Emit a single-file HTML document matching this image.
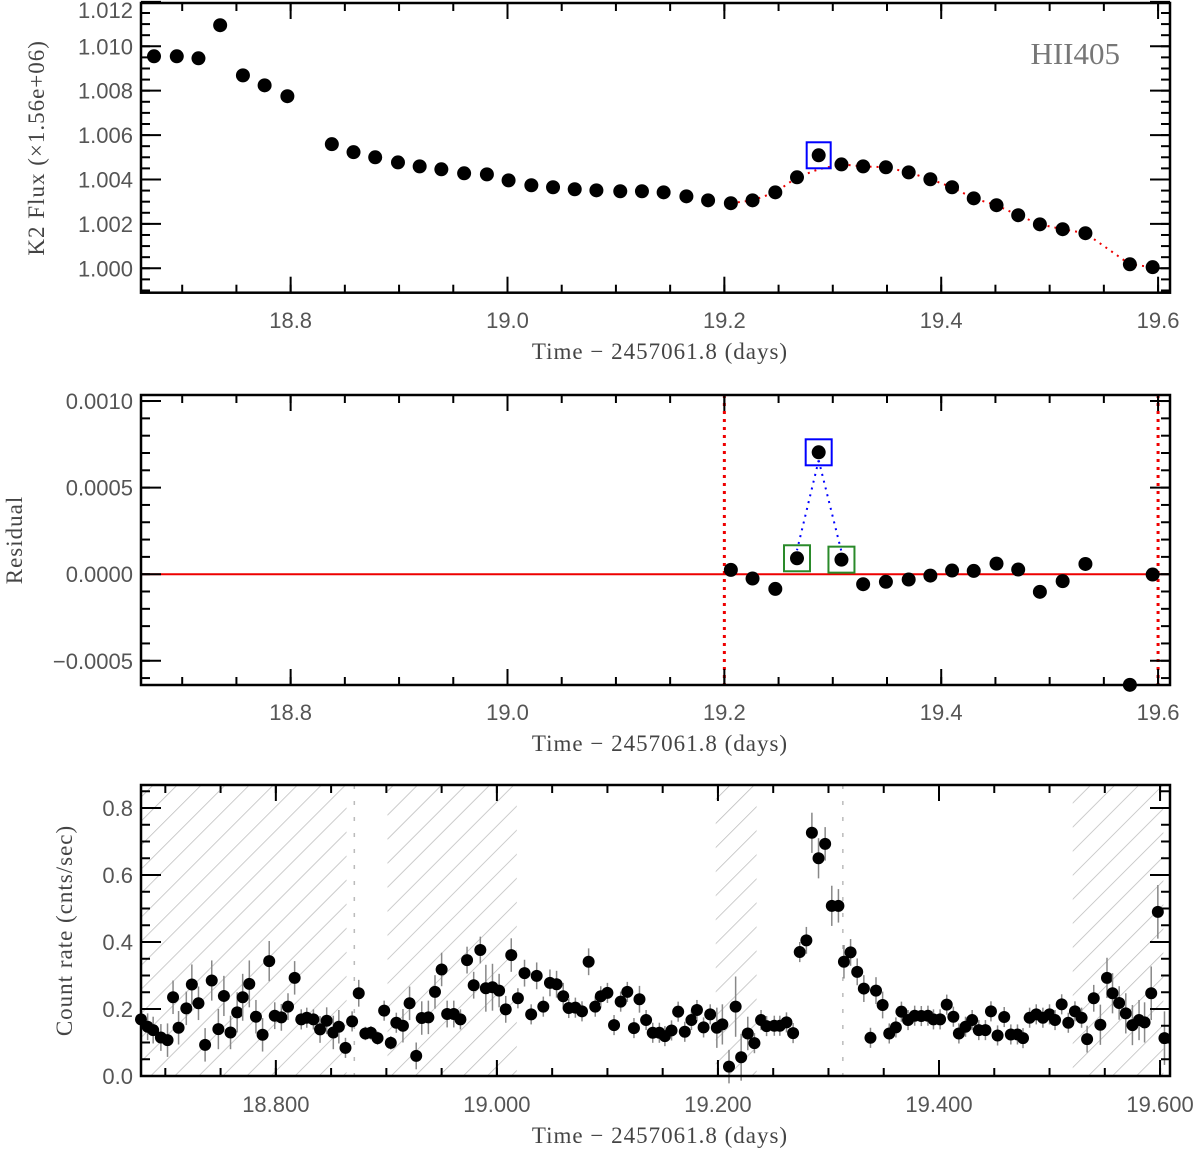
<!DOCTYPE html>
<html><head><meta charset="utf-8"><style>
body{margin:0;background:#fff}
svg{display:block}
.tk{font-family:"Liberation Sans",sans-serif;font-size:22px;fill:#555}
.tt{font-family:"Liberation Serif",serif;font-size:23px;fill:#444;letter-spacing:1px}
</style></head><body>
<svg id="c" width="1200" height="1149" viewBox="0 0 1200 1149" xmlns="http://www.w3.org/2000/svg">
<defs>
<pattern id="hatch" patternUnits="userSpaceOnUse" width="17" height="17" patternTransform="rotate(45)"><line x1="0" y1="0" x2="0" y2="17" stroke="#bbb" stroke-width="1.5"/></pattern>
</defs>
</svg>
<script>
// Panel 1: K2 flux
const t1=[18.674,18.695,18.715,18.735,18.756,18.776,18.797,18.838,18.858,18.878,18.899,18.919,18.939,18.960,18.981,19.001,19.022,19.042,19.062,19.082,19.104,19.124,19.144,19.165,19.185,19.206,19.226,19.247,19.267,19.287,19.308,19.328,19.349,19.370,19.390,19.410,19.430,19.451,19.471,19.491,19.512,19.533,19.574,19.595];
const f1=[1.00955,1.00955,1.00946,1.01095,1.00869,1.00824,1.00775,1.00559,1.00523,1.00500,1.00477,1.00459,1.00446,1.00428,1.00423,1.00396,1.00374,1.00365,1.00356,1.00351,1.00347,1.00347,1.00342,1.00324,1.00306,1.00293,1.00306,1.00342,1.00410,1.00509,1.00468,1.00459,1.00455,1.00432,1.00401,1.00365,1.00315,1.00284,1.00239,1.00198,1.00176,1.00158,1.00018,1.00005];
const fitT=[19.206,19.226,19.247,19.267,19.287,19.308,19.328,19.349,19.370,19.390,19.410,19.430,19.451,19.471,19.491,19.512,19.533,19.574,19.595];
const fitF=[1.00293,1.00306,1.00342,1.00410,1.00446,1.00468,1.00459,1.00455,1.00432,1.00401,1.00365,1.00315,1.00284,1.00239,1.00198,1.00176,1.00158,1.00018,1.00005];
const yTicks1=[1.000,1.002,1.004,1.006,1.008,1.010,1.012];
const yLabels1=["1.000","1.002","1.004","1.006","1.008","1.010","1.012"];
// Panel 2: residuals
const t2=[19.206,19.226,19.247,19.267,19.287,19.308,19.328,19.349,19.370,19.390,19.410,19.430,19.451,19.471,19.491,19.512,19.533,19.574,19.595];
const r2=[0.000025,-0.000025,-0.000085,0.000092,0.000704,0.000084,-0.000058,-0.000044,-0.000031,-0.000008,0.000021,0.000019,0.000061,0.000027,-0.000102,-0.00004,0.000059,-0.000639,-0.000002];
const yTicks2=[-0.0005,0,0.0005,0.0010];
const yLabels2=["\u22120.0005","0.0000","0.0005","0.0010"];
const xTicks12=[18.8,19.0,19.2,19.4,19.6];
const xLabels12=["18.8","19.0","19.2","19.4","19.6"];
// Panel 3: count rate
const t3=[18.678,18.684,18.689,18.696,18.702,18.707,18.712,18.719,18.724,18.730,18.736,18.742,18.748,18.753,18.759,18.765,18.770,18.776,18.782,18.788,18.794,18.799,18.805,18.811,18.817,18.823,18.828,18.834,18.840,18.846,18.852,18.857,18.863,18.869,18.875,18.881,18.886,18.892,18.898,18.904,18.909,18.915,18.921,18.927,18.932,18.938,18.944,18.950,18.955,18.961,18.967,18.973,18.979,18.985,18.990,18.996,19.002,19.008,19.013,19.019,19.025,19.031,19.036,
19.042,19.048,19.054,19.060,19.065,19.071,19.077,19.083,19.089,19.094,19.100,19.106,19.112,19.118,19.124,19.129,19.135,19.141,19.147,19.152,19.158,19.164,19.170,19.176,19.181,19.187,19.193,19.199,19.204,19.210,19.216,19.221,19.227,19.233,19.239,19.244,19.251,19.256,19.262,19.268,19.274,19.280,19.285,19.291,19.297,19.303,19.309,19.314,19.320,19.326,
19.332,19.338,19.343,19.349,19.355,19.361,19.366,19.372,19.378,19.384,19.390,19.395,19.401,19.407,19.413,19.418,19.424,19.430,19.436,19.442,19.447,19.453,19.459,19.465,19.471,19.476,19.482,19.488,19.494,19.500,19.505,19.511,19.517,19.523,19.529,19.534,19.540,19.546,19.552,19.557,19.563,19.569,19.575,19.581,19.586,19.592,19.598,19.604];
const c3=[0.169,0.147,0.137,0.115,0.107,0.235,0.144,0.202,0.273,0.217,0.093,0.285,0.140,0.239,0.130,0.190,0.235,0.275,0.177,0.123,0.343,0.180,0.175,0.207,0.293,0.169,0.174,0.169,0.139,0.165,0.130,0.147,0.084,0.163,0.247,0.127,0.129,0.113,0.195,0.099,0.159,0.150,0.217,0.060,0.173,0.175,0.251,0.318,0.185,0.185,0.169,0.346,0.271,0.376,0.262,0.265,0.255,0.199,0.361,0.232,0.307,0.184,0.299,
0.207,0.278,0.274,0.238,0.203,0.204,0.193,0.341,0.207,0.238,0.248,0.152,0.222,0.251,0.143,0.229,0.167,0.129,0.129,0.119,0.136,0.192,0.132,0.167,0.197,0.145,0.184,0.144,0.154,0.028,0.207,0.056,0.127,0.098,0.167,0.149,0.150,0.150,0.160,0.128,0.370,0.405,0.726,0.650,0.693,0.508,0.508,0.341,0.369,0.311,
0.261,0.114,0.255,0.212,0.127,0.145,0.192,0.167,0.180,0.179,0.180,0.169,0.169,0.213,0.177,0.127,0.147,0.167,0.137,0.137,0.193,0.121,0.176,0.124,0.124,0.113,0.174,0.184,0.174,0.184,0.167,0.214,0.159,0.193,0.174,0.110,0.232,0.153,0.293,0.247,0.218,0.187,0.152,0.167,0.160,0.247,0.490,0.113];
const e3=[0.04,0.04,0.04,0.04,0.05,0.05,0.05,0.05,0.06,0.05,0.05,0.06,0.06,0.06,0.05,0.06,0.07,0.07,0.05,0.05,0.06,0.04,0.04,0.04,0.05,0.03,0.03,0.03,0.04,0.04,0.05,0.05,0.03,0.03,0.04,0.02,0.02,0.02,0.03,0.02,0.03,0.05,0.05,0.04,0.05,0.05,0.05,0.05,0.04,0.04,0.03,0.04,0.04,0.04,0.07,0.07,0.05,0.04,0.05,0.03,0.04,0.03,0.04,
0.03,0.04,0.04,0.04,0.03,0.03,0.03,0.04,0.03,0.03,0.03,0.03,0.03,0.03,0.03,0.04,0.03,0.03,0.03,0.03,0.03,0.03,0.03,0.03,0.03,0.03,0.03,0.06,0.06,0.05,0.09,0.07,0.05,0.03,0.03,0.03,0.03,0.03,0.03,0.03,0.03,0.04,0.06,0.06,0.05,0.06,0.05,0.05,0.04,0.04,
0.04,0.03,0.04,0.04,0.03,0.03,0.03,0.03,0.03,0.03,0.03,0.03,0.03,0.03,0.03,0.03,0.03,0.03,0.03,0.03,0.03,0.03,0.03,0.03,0.03,0.03,0.03,0.03,0.03,0.03,0.03,0.03,0.03,0.03,0.03,0.04,0.04,0.06,0.06,0.06,0.05,0.06,0.06,0.06,0.06,0.08,0.08,0.08];
const hatchStart=[18.678,18.901,19.198,19.521];
const hatchEnd=[18.864,19.018,19.235,19.603];
const gapLines=[18.871,19.313];
const yTicks3=[0,0.2,0.4,0.6,0.8];
const yLabels3=["0.0","0.2","0.4","0.6","0.8"];
const xTicks3=[18.8,19.0,19.2,19.4,19.6];
const xLabels3=["18.800","19.000","19.200","19.400","19.600"];

const svg=document.getElementById('c');
const NS="http://www.w3.org/2000/svg";
function mk(tag,at,parent){const e=document.createElementNS(NS,tag);for(const k in at)e.setAttribute(k,at[k]);(parent||svg).appendChild(e);return e;}
function scale(d0,d1,p0,p1){return v=>p0+(v-d0)*(p1-p0)/(d1-d0);}

const P1={x0:141,x1:1170,y0:3,y1:292.7,t0:18.662,t1:19.611,v0:0.9989,v1:1.01195};
const P2={x0:141,x1:1170,y0:395,y1:685,t0:18.662,t1:19.611,v0:-0.00064,v1:0.001035};
const P3={x0:141,x1:1170,y0:785,y1:1076,t0:18.678,t1:19.609,v0:0,v1:0.8687};
[P1,P2,P3].forEach(p=>{p.X=scale(p.t0,p.t1,p.x0,p.x1);p.Y=scale(p.v0,p.v1,p.y1,p.y0);});

function axes(p,g,xt,xl,yt,yl,yMinor,labY,ytitle,ytx){
  for(let v=18.7;v<=19.61;v+=0.05){const x=p.X(v);if(x<p.x0||x>p.x1)continue;
    mk('line',{x1:x,x2:x,y1:p.y1,y2:p.y1-8,stroke:'#000','stroke-width':2},g);
    mk('line',{x1:x,x2:x,y1:p.y0,y2:p.y0+8,stroke:'#000','stroke-width':2},g);}
  xt.forEach((v,i)=>{const x=p.X(v);
    mk('line',{x1:x,x2:x,y1:p.y1,y2:p.y1-16,stroke:'#000','stroke-width':2},g);
    mk('line',{x1:x,x2:x,y1:p.y0,y2:p.y0+16,stroke:'#000','stroke-width':2},g);
    const t=mk('text',{x:x,y:labY,'text-anchor':'middle',class:'tk'},g);t.textContent=xl[i];
    
    });
  for(let v=yMinor[0];v<=p.v1+1e-12;v+=yMinor[1]){const y=p.Y(v);if(y<p.y0||y>p.y1)continue;
    mk('line',{x1:p.x0,x2:p.x0+9,y1:y,y2:y,stroke:'#000','stroke-width':2},g);
    mk('line',{x1:p.x1,x2:p.x1-9,y1:y,y2:y,stroke:'#000','stroke-width':2},g);}
  yt.forEach((v,i)=>{const y=p.Y(v);
    mk('line',{x1:p.x0,x2:p.x0+20,y1:y,y2:y,stroke:'#000','stroke-width':2},g);
    mk('line',{x1:p.x1,x2:p.x1-20,y1:y,y2:y,stroke:'#000','stroke-width':2},g);
    const ly=Math.max(y,10);
    const t=mk('text',{x:p.x0-8,y:ly+8,'text-anchor':'end',class:'tk'},g);t.textContent=yl[i];
    
    });
  mk('rect',{x:p.x0,y:p.y0,width:p.x1-p.x0,height:p.y1-p.y0,fill:'none',stroke:'#000','stroke-width':2.5},g);
  const xt2=mk('text',{x:660,y:labY+31,'text-anchor':'middle',class:'tt'},g);xt2.textContent='Time \u2212 2457061.8 (days)';
  
  
  const cy=(p.y0+p.y1)/2;
  const yt2=mk('text',{x:ytx,y:cy,'text-anchor':'middle',class:'tt',transform:`rotate(-90 ${ytx} ${cy})`},g);yt2.textContent=ytitle;
  
  
}

// ---- Panel 1
const g1=mk('g',{});


let d='';fitT.forEach((t,i)=>{d+=(i?'L':'M')+P1.X(t)+' '+P1.Y(fitF[i]);});
const fl=mk('path',{d:d,fill:'none',stroke:'#e00','stroke-width':2,'stroke-dasharray':'2 5'},g1);


t1.forEach((t,i)=>{const c=mk('circle',{cx:P1.X(t),cy:P1.Y(f1[i]),r:7,fill:'#000'},g1);
  
  });
{const i=29;const b=mk('rect',{x:P1.X(t1[i])-12,y:P1.Y(f1[i])-13,width:24,height:26,fill:'none',stroke:'#00f','stroke-width':2},g1);
 
 }
axes(P1,g1,xTicks12,xLabels12,yTicks1,yLabels1,[0.999,0.0005],328,'K2 Flux (\u00d71.56e+06)',44);
{const h=mk('text',{x:1120,y:64,'text-anchor':'end',style:'font-family:"Liberation Serif",serif;font-size:31px;fill:#777'},g1);h.textContent='HII405';
 
 }

// ---- Panel 2
const g2=mk('g',{});


[19.2,19.6].forEach(v=>{const l=mk('line',{x1:P2.X(v),x2:P2.X(v),y1:P2.y0,y2:P2.y1,stroke:'#e00','stroke-width':3,'stroke-dasharray':'3 5'},g2);
  
  });
{const z=mk('line',{x1:P2.x0,x2:P2.x1,y1:P2.Y(0),y2:P2.Y(0),stroke:'#e00','stroke-width':2},g2);
 
 }
[3,5].forEach(j=>{const l=mk('line',{x1:P2.X(t2[4]),y1:P2.Y(r2[4])+8,x2:P2.X(t2[j]),y2:P2.Y(r2[j])-8,stroke:'#00f','stroke-width':2,'stroke-dasharray':'2 5'},g2);
  
  });
t2.forEach((t,i)=>{const c=mk('circle',{cx:P2.X(t),cy:P2.Y(r2[i]),r:7,fill:'#000'},g2);
  
  });
{const b=mk('rect',{x:P2.X(t2[4])-13,y:P2.Y(r2[4])-13,width:26,height:26,fill:'none',stroke:'#00f','stroke-width':2},g2);
 
 }
[3,5].forEach(j=>{const b=mk('rect',{x:P2.X(t2[j])-13,y:P2.Y(r2[j])-13,width:26,height:26,fill:'none',stroke:'#2a8a2a','stroke-width':2},g2);
  
  });
axes(P2,g2,xTicks12,xLabels12,yTicks2,yLabels2,[-0.0006,0.0001],720,'Residual',22);

// ---- Panel 3
const g3=mk('g',{});


hatchStart.forEach((s,i)=>{const r=mk('rect',{x:P3.X(s),y:P3.y0,width:P3.X(hatchEnd[i])-P3.X(s),height:P3.y1-P3.y0,fill:'url(#hatch)'},g3);
  
  });
gapLines.forEach(v=>{const l=mk('line',{x1:P3.X(v),x2:P3.X(v),y1:P3.y0,y2:P3.y1,stroke:'#bbb','stroke-width':1.5,'stroke-dasharray':'4 12'},g3);
  
  });
t3.forEach((t,i)=>{const x=P3.X(t);
  const e=mk('line',{x1:x,x2:x,y1:P3.Y(c3[i]-e3[i]),y2:P3.Y(c3[i]+e3[i]),stroke:'#888','stroke-width':1.5},g3);
  
  
  const c=mk('circle',{cx:x,cy:P3.Y(c3[i]),r:6,fill:'#000'},g3);
  
  });
axes(P3,g3,xTicks3,xLabels3,yTicks3,yLabels3,[0,0.05],1112,'Count rate (cnts/sec)',72);
</script>
</body></html>
